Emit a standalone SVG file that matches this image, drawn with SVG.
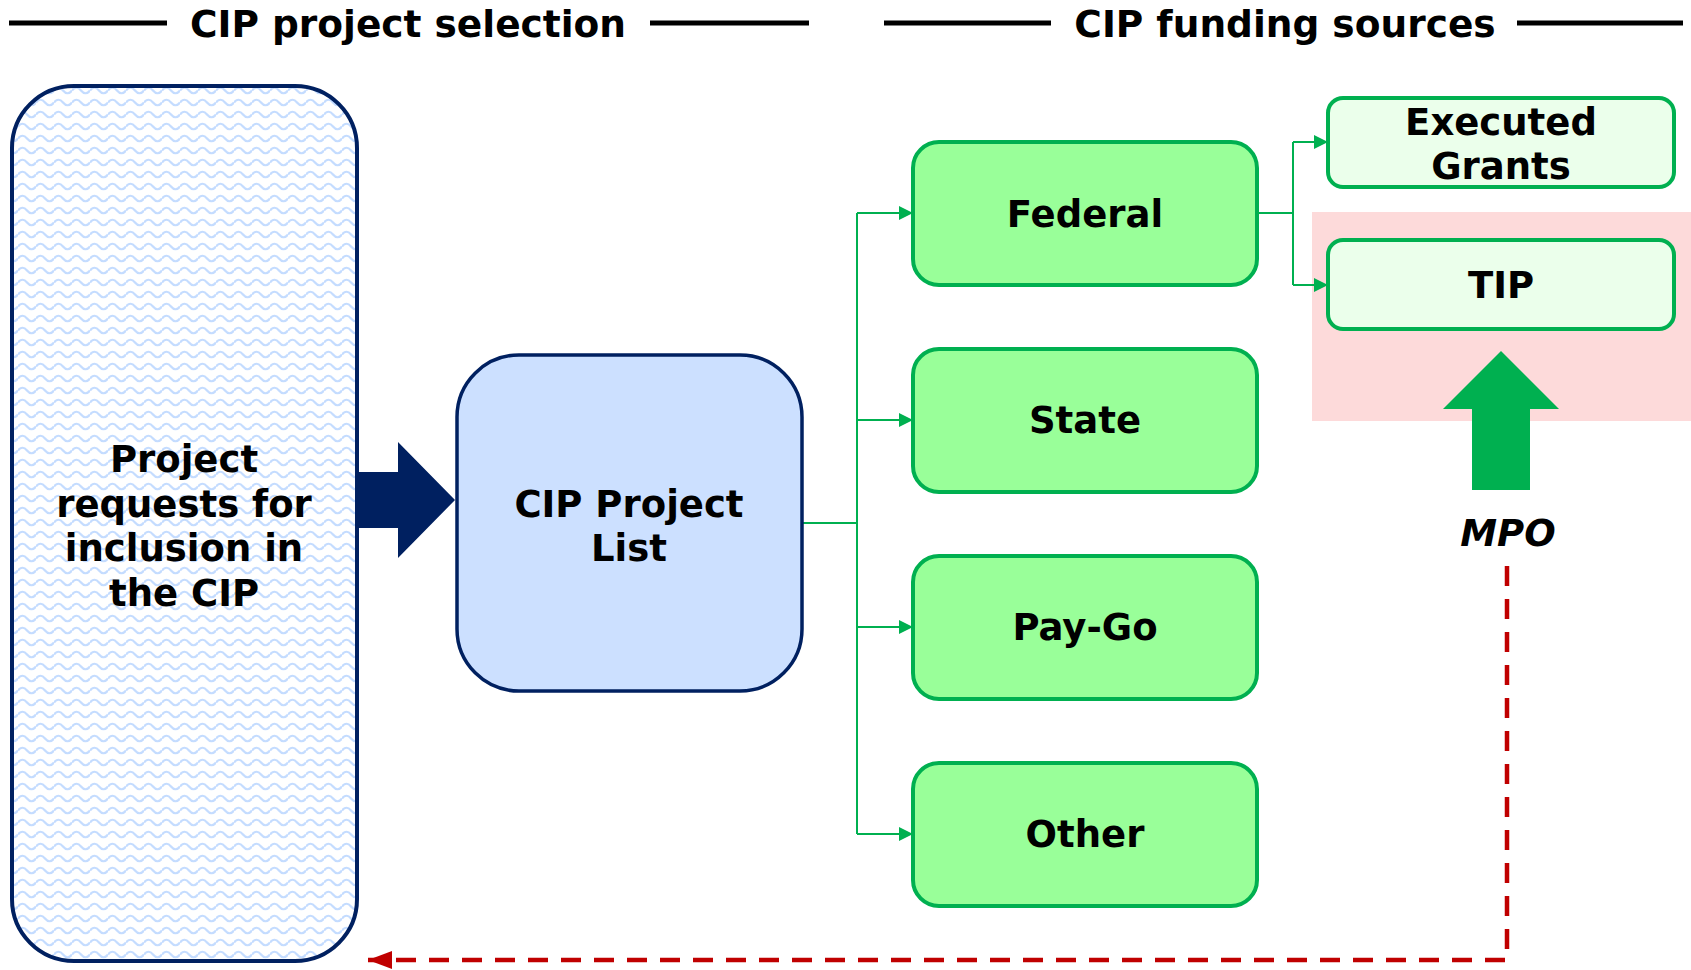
<svg xmlns="http://www.w3.org/2000/svg" width="1691" height="970" viewBox="0 0 1691 970">
  <style>
    .lbl { font-family: "DejaVu Sans", "Liberation Sans", sans-serif; font-weight: bold; font-size: 37px; fill: #000; text-anchor: middle; }
    .hdr { font-family: "DejaVu Sans", "Liberation Sans", sans-serif; font-weight: bold; font-size: 37.5px; fill: #000; text-anchor: middle; }
    .rule { stroke: #000; stroke-width: 5; }
    .src { fill: #99FF99; stroke: #00B050; stroke-width: 4; }
    .dst { fill: #EBFFEB; stroke: #00B050; stroke-width: 4; }
    .flow { fill: none; stroke: #00B050; stroke-width: 2; }
  </style>
  <defs>
    <pattern id="wave" patternUnits="userSpaceOnUse" width="18" height="12">
      <rect width="18" height="12" fill="#FFFFFF"/>
      <path d="M0 6.5 Q4.5 1 9 6.5 T18 6.5" fill="none" stroke="#C4DCFF" stroke-width="2.2"/>
    </pattern>
    <marker id="arrowGreen" viewBox="0 0 14 14" refX="14" refY="7" markerWidth="14" markerHeight="14" markerUnits="userSpaceOnUse" orient="auto">
      <path d="M0 0 L14 7 L0 14 Z" fill="#00B050"/>
    </marker>
    <marker id="arrowRed" viewBox="0 0 24 18" refX="24" refY="9" markerWidth="24" markerHeight="18" markerUnits="userSpaceOnUse" orient="auto">
      <path d="M0 0 L24 9 L0 18 Z" fill="#C00000"/>
    </marker>
  </defs>

  <rect width="1691" height="970" fill="#FFFFFF"/>

  <!-- section headings -->
  <g id="heading-selection">
    <line class="rule" x1="9" y1="23" x2="167" y2="23"/>
    <text class="hdr" x="408" y="37">CIP project selection</text>
    <line class="rule" x1="650" y1="23" x2="809" y2="23"/>
  </g>
  <g id="heading-funding">
    <line class="rule" x1="884" y1="23" x2="1051" y2="23"/>
    <text class="hdr" x="1285" y="37">CIP funding sources</text>
    <line class="rule" x1="1517" y1="23" x2="1683" y2="23"/>
  </g>

  <!-- MPO highlight band behind TIP -->
  <rect id="mpo-band" x="1312" y="212" width="379" height="209" fill="#FDDADA"/>

  <!-- connectors -->
  <g id="connectors">
    <polygon points="357,472 398,472 398,442 455,500 398,558 398,528 357,528" fill="#002060"/>
    <path class="flow" d="M802 523 H857"/>
    <path class="flow" d="M857 213 V834"/>
    <path class="flow" d="M857 213 H913" marker-end="url(#arrowGreen)"/>
    <path class="flow" d="M857 420 H913" marker-end="url(#arrowGreen)"/>
    <path class="flow" d="M857 627 H913" marker-end="url(#arrowGreen)"/>
    <path class="flow" d="M857 834 H913" marker-end="url(#arrowGreen)"/>
    <path class="flow" d="M1257 213 H1293"/>
    <path class="flow" d="M1293 142 V285"/>
    <path class="flow" d="M1293 142 H1328" marker-end="url(#arrowGreen)"/>
    <path class="flow" d="M1293 285 H1328" marker-end="url(#arrowGreen)"/>
    <polygon points="1472,490 1472,409 1443,409 1501,351 1559,409 1530,409 1530,490" fill="#00B050"/>
    <path d="M1507 566 V960 H368" fill="none" stroke="#C00000" stroke-width="4.5" stroke-dasharray="20 13" marker-end="url(#arrowRed)"/>
  </g>

  <g id="node-requests">
    <rect x="12" y="86" width="345" height="875" rx="62" ry="62" fill="url(#wave)" stroke="#002060" stroke-width="4"/>
    <text class="lbl" x="184" y="472">Project</text>
    <text class="lbl" x="184" y="517">requests for</text>
    <text class="lbl" x="184" y="561">inclusion in</text>
    <text class="lbl" x="184" y="606">the CIP</text>
  </g>

  <g id="node-project-list">
    <rect x="457" y="355" width="345" height="336" rx="62" ry="62" fill="#CCE0FF" stroke="#002060" stroke-width="3.5"/>
    <text class="lbl" x="629" y="517">CIP Project</text>
    <text class="lbl" x="629" y="561">List</text>
  </g>

  <g id="node-federal">
    <rect class="src" x="913" y="142" width="344" height="143" rx="26" ry="26"/>
    <text class="lbl" x="1085" y="227">Federal</text>
  </g>
  <g id="node-state">
    <rect class="src" x="913" y="349" width="344" height="143" rx="26" ry="26"/>
    <text class="lbl" x="1085" y="433">State</text>
  </g>
  <g id="node-paygo">
    <rect class="src" x="913" y="556" width="344" height="143" rx="26" ry="26"/>
    <text class="lbl" x="1085" y="640">Pay-Go</text>
  </g>
  <g id="node-other">
    <rect class="src" x="913" y="763" width="344" height="143" rx="26" ry="26"/>
    <text class="lbl" x="1085" y="847">Other</text>
  </g>

  <g id="node-executed-grants">
    <rect class="dst" x="1328" y="98" width="346" height="89" rx="15" ry="15"/>
    <text class="lbl" x="1501" y="135">Executed</text>
    <text class="lbl" x="1501" y="179">Grants</text>
  </g>
  <g id="node-tip">
    <rect class="dst" x="1328" y="240" width="346" height="89" rx="15" ry="15"/>
    <text class="lbl" x="1501" y="298">TIP</text>
  </g>

  <g id="node-mpo">
    <text class="lbl" x="1508" y="546" font-style="italic">MPO</text>
  </g>
</svg>
